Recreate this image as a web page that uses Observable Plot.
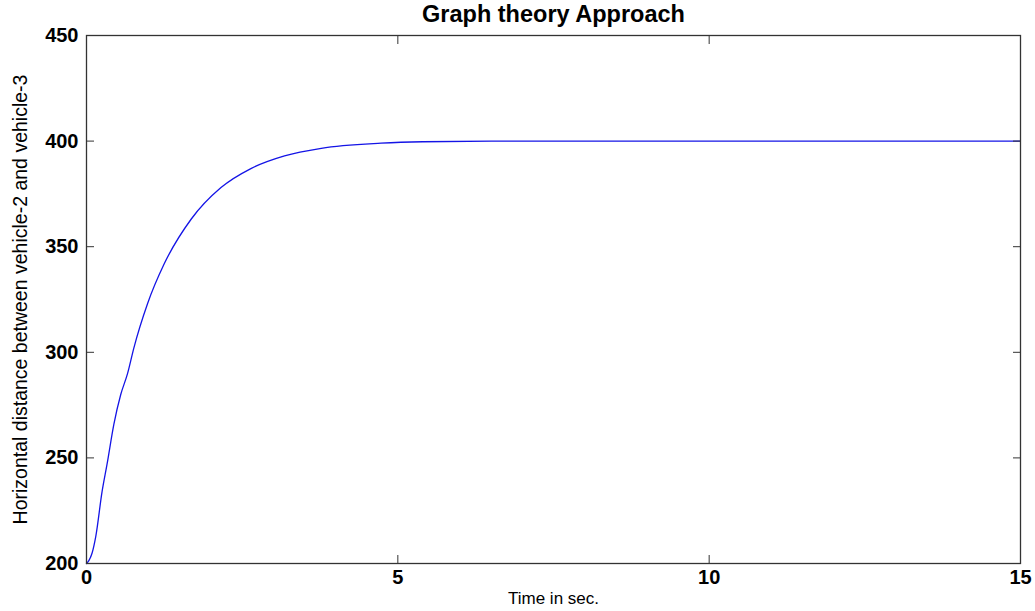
<!DOCTYPE html>
<html>
<head>
<meta charset="utf-8">
<script src="https://cdn.jsdelivr.net/npm/d3@7"></script>
<script src="https://cdn.jsdelivr.net/npm/@observablehq/plot@0.6"></script>
<style>
  html, body { margin: 0; padding: 0; background: #fff; }
  #chart svg { display: block; }
</style>
</head>
<body>
<div id="chart"></div>
<script>
const titleText = "Graph theory Approach";
const xLabel = "Time in sec.";
const yLabel = "Horizontal distance between vehicle-2 and vehicle-3";
const xTicks = [0, 5, 10, 15];
const yTicks = [200, 250, 300, 350, 400, 450];
const time = [0, 0.04, 0.09, 0.15, 0.25, 0.33, 0.44, 0.55, 0.66, 0.76, 0.98, 1.25, 1.68, 2.16, 2.64, 3.18, 3.77, 4.73, 5.4, 6.5, 8, 10, 12, 15];
const distance = [200, 201.5, 205, 213, 234, 247, 266, 280, 290, 302, 323, 342, 363, 378, 387, 393, 396.6, 399, 399.7, 400, 400, 400, 400, 400];

const data = time.map((t, i) => ({t, d: distance[i]}));
const font = "'Liberation Sans', Arial, sans-serif";

const chart = Plot.plot({
  width: 1035,
  height: 611,
  marginLeft: 86,
  marginRight: 15,
  marginTop: 35,
  marginBottom: 48,
  style: {fontFamily: font, background: "#fff", color: "#000"},
  x: {domain: [0, 15]},
  y: {domain: [200, 450]},
  marks: [
    Plot.line(data, {x: "t", y: "d", stroke: "#1414e6", strokeWidth: 1.3, curve: "monotone-x"}),
    Plot.frame({stroke: "#333", strokeWidth: 1.3}),
    Plot.axisX({anchor: "bottom", ticks: xTicks, tickSize: -8, tickPadding: 14, fontSize: 20, fontWeight: "bold", stroke: "#333", label: null}),
    Plot.axisX({anchor: "top", ticks: xTicks, tickSize: -8, tickFormat: () => "", stroke: "#333", label: null}),
    Plot.axisY({anchor: "left", ticks: yTicks, tickSize: -8, tickPadding: 16, fontSize: 20, fontWeight: "bold", stroke: "#333", label: null}),
    Plot.axisY({anchor: "right", ticks: yTicks, tickSize: -8, tickFormat: () => "", stroke: "#333", label: null}),
    Plot.text([titleText], {frameAnchor: "top", lineAnchor: "middle", dy: -21, fontSize: 23.5, fontWeight: "bold", fill: "#000", text: d => d}),
    Plot.text([xLabel], {frameAnchor: "bottom", lineAnchor: "middle", dy: 35, fontSize: 17, fill: "#000", text: d => d}),
    Plot.text([yLabel], {frameAnchor: "left", textAnchor: "middle", lineAnchor: "middle", dx: -66, rotate: -90, fontSize: 19.5, fill: "#000", text: d => d})
  ]
});
document.getElementById("chart").appendChild(chart);
</script>
</body>
</html>
